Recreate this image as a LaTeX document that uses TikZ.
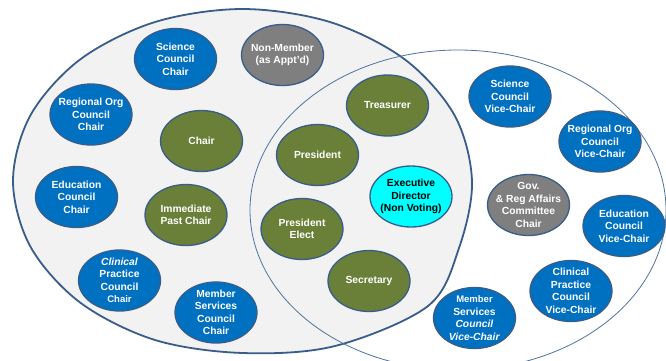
\documentclass[tikz,border=0pt]{standalone}
\usepackage{fontspec}
\setmainfont{Liberation Sans}
\usetikzlibrary{shapes.geometric}
\definecolor{oblue}{HTML}{0070C0}
\definecolor{ogray}{HTML}{7F7F7F}
\definecolor{ogreen}{HTML}{6A7F37}
\definecolor{ocyan}{HTML}{00FFFF}
\definecolor{oline}{HTML}{385D8A}
\definecolor{thinline}{HTML}{4F73A0}
\definecolor{bggray}{HTML}{F2F2F2}
\newcommand\orgnode[5][]{%
  \node[oval, fill=#4] (#2) at (#3) {};
  \node[lbl,#1] (#2t) at (#2) {#5};}
\begin{document}
\begin{tikzpicture}[x=1pt,y=-1pt,
  oval/.style={ellipse, draw=oline, line width=1.3pt, minimum width=82pt, minimum height=61pt, inner sep=0pt},
  lbl/.style={align=center, text=white, inner sep=0pt, font=\bfseries\fontsize{10.3}{12.5}\selectfont},
  bigshape/.style={draw=oline, line width=1.8pt, fill=bggray},
  thinshape/.style={draw=thinline, line width=0.8pt}]
\useasboundingbox (0,0) rectangle (666,360);
\clip (0,0) rectangle (666,360);
\fill[white] (0,0) rectangle (666,360);
% big board ellipse
\draw[bigshape] plot[smooth cycle, tension=0.55] coordinates {
  (472,181) (459,248) (428,306) (335,346) (242.5,353) (154.7,339.9)
  (80.2,302.6) (30.5,246.8) (13,181) (30.5,115.2) (80.2,59.4)
  (154.7,22.1) (242.5,9) (330.3,22.1) (404.8,59.4) (454.5,115.2)};
% executive committee ellipse
\draw[thinshape] (458,210) ellipse [x radius=208pt, y radius=160pt];
% nodes
\orgnode{sci}{175.5,59}{oblue}{Science\\Council\\Chair}
\orgnode{nonm}{282.5,55}{ogray}{Non-Member\\(as Appt'd)}
\orgnode{reg}{91,114.5}{oblue}{Regional Org\\Council\\Chair}
\orgnode{chair}{201.5,141}{ogreen}{Chair}
\orgnode{edu}{76.5,197}{oblue}{Education\\Council\\Chair}
\orgnode{ipc}{186,215}{ogreen}{Immediate\\Past Chair}
\orgnode{clin}{119.5,280.5}{oblue}{\textit{Clinical}\\Practice\\Council\\{\fontsize{9.5}{12.5}\selectfont Chair}}
\orgnode{mem}{216,312.5}{oblue}{Member\\Services\\Council\\Chair}
\orgnode{treas}{387.5,105.5}{ogreen}{Treasurer}
\orgnode{pres}{317.5,155}{ogreen}{President}
\orgnode[text=black]{exec}{411,196.5}{ocyan}{Executive\\Director\\(Non Voting)}
\orgnode{prel}{302,229}{ogreen}{President\\Elect}
\orgnode{sec}{369,281}{ogreen}{Secretary}
\orgnode{sciv}{510,96.5}{oblue}{Science\\Council\\Vice-Chair}
\orgnode{regv}{600,141.5}{oblue}{Regional Org\\Council\\Vice-Chair}
\orgnode{gov}{528.5,205}{ogray}{Gov.\\\& Reg Affairs\\Committee\\Chair}
\orgnode{eduv}{624,226}{oblue}{Education\\Council\\Vice-Chair}
\orgnode{clinv}{571,291}{oblue}{Clinical\\Practice\\Council\\Vice-Chair}
\orgnode{memv}{474.5,318}{oblue}{{\fontsize{9.5}{12.5}\selectfont Member}\\Services\\\textit{Council}\\\textit{Vice-Chair}}
\end{tikzpicture}
\end{document}
